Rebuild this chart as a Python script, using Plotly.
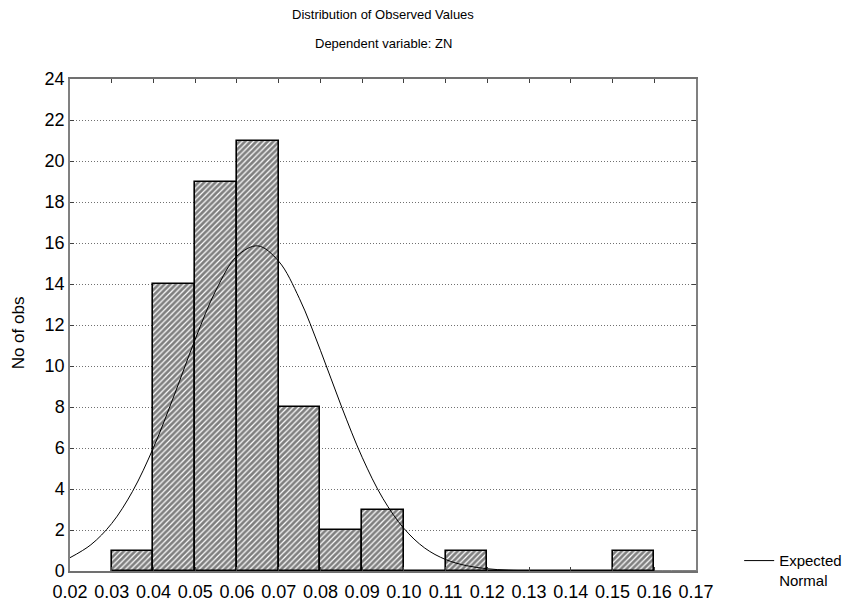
import plotly.graph_objects as go

# histogram bins (bin centers) and observed counts
bin_centers = [0.035, 0.045, 0.055, 0.065, 0.075, 0.085, 0.095, 0.105, 0.115, 0.125, 0.135, 0.145, 0.155]
counts = [1, 14, 19, 21, 8, 2, 3, 0, 1, 0, 0, 0, 1]

# expected normal curve
curve_x = [0.020, 0.025, 0.030, 0.035, 0.040, 0.045, 0.050, 0.055, 0.060, 0.065,
           0.070, 0.075, 0.080, 0.085, 0.090, 0.095, 0.100, 0.105, 0.110, 0.115,
           0.120, 0.125, 0.130, 0.140, 0.150, 0.160, 0.170]
curve_y = [0.65, 1.28, 2.32, 3.89, 6.02, 8.59, 11.30, 13.71, 15.36, 15.86,
           15.11, 13.28, 10.77, 8.05, 5.55, 3.53, 2.08, 1.12, 0.56, 0.26,
           0.11, 0.04, 0.015, 0.0, 0.0, 0.0, 0.0]

x_ticks = [0.02, 0.03, 0.04, 0.05, 0.06, 0.07, 0.08, 0.09, 0.10, 0.11, 0.12, 0.13, 0.14, 0.15, 0.16, 0.17]

fig = go.Figure()
fig.add_trace(go.Bar(x=bin_centers, y=counts, width=0.01, showlegend=False,
                     marker=dict(color="white", line=dict(color="black", width=1.6),
                                 pattern=dict(shape="/", fgcolor="black", bgcolor="white",
                                              size=4, solidity=0.7))))
fig.add_trace(go.Scatter(x=curve_x, y=curve_y, mode="lines", name="Expected<br>Normal",
                         line=dict(color="black", width=1, shape="spline")))

fig.update_xaxes(range=[0.02, 0.17], tickvals=x_ticks, tickformat=".2f", automargin=False,
                 tickfont=dict(size=18), ticklabelstandoff=4,
                 showline=True, linecolor="#707070", linewidth=1.5, mirror="ticks",
                 ticks="inside", ticklen=4, tickcolor="#404040", showgrid=False, zeroline=False)
fig.update_yaxes(range=[0, 24], dtick=2, tickfont=dict(size=18), ticklabelstandoff=0,
                 automargin=False,
                 showline=True, linecolor="#808080", linewidth=1.5, mirror="ticks",
                 ticks="inside", ticklen=4, tickcolor="#404040",
                 showgrid=True, gridcolor="#707070", griddash="1px,2px", gridwidth=1, zeroline=False)

# y axis title
fig.add_annotation(text="No of obs", x=-0.0823, y=0.484, xref="paper", yref="paper",
                   textangle=-90, xanchor="center", yanchor="middle", showarrow=False,
                   font=dict(size=17))

# two-line title
fig.add_annotation(text="Distribution of Observed Values", x=0.5, y=1, xref="paper", yref="paper",
                   yanchor="middle", yshift=65, showarrow=False, font=dict(size=13))
fig.add_annotation(text="Dependent variable: ZN", x=0.5, y=1, xref="paper", yref="paper",
                   yanchor="middle", yshift=36, showarrow=False, font=dict(size=13))

fig.update_layout(width=858, height=603, plot_bgcolor="white", paper_bgcolor="white",
                  margin=dict(l=70, r=162, t=79, b=32), bargap=0,
                  font=dict(family="Liberation Sans, Arial", size=14, color="black"),
                  legend=dict(xref="container", yref="container", x=0.8615, y=0.0973,
                              xanchor="left", yanchor="top", valign="top",
                              font=dict(size=15), bgcolor="rgba(0,0,0,0)"))

fig.write_html("out.html", config={"displayModeBar": False},
               post_script="document.body.style.margin='0';")
